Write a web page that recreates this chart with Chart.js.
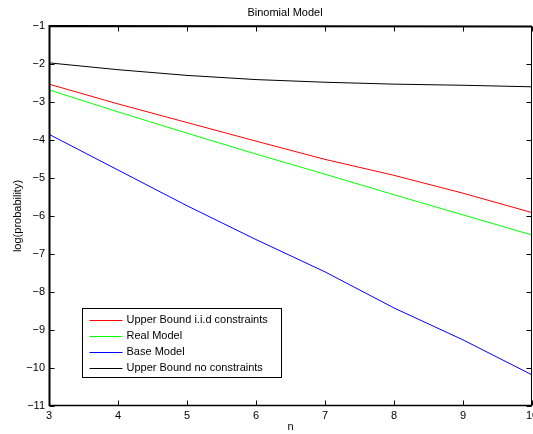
<!DOCTYPE html>
<html><head><meta charset="utf-8">
<script src="https://cdn.jsdelivr.net/npm/chart.js@4.4.0/dist/chart.umd.min.js"></script>
<style>html,body{margin:0;padding:0;overflow:hidden;background:#fff}canvas{display:block}</style>
</head><body>
<canvas id="c" width="533" height="434"></canvas>
<script>
const nValues = [3, 4, 5, 6, 7, 8, 9, 10];
const upperIid = [-2.53, -3.05, -3.54, -4.03, -4.51, -4.93, -5.40, -5.91];
const realModel = [-2.68, -3.26, -3.82, -4.37, -4.90, -5.44, -5.97, -6.50];
const baseModel = [-3.85, -4.79, -5.73, -6.62, -7.47, -8.42, -9.26, -10.18];
const upperNoCon = [-1.97, -2.15, -2.30, -2.41, -2.48, -2.53, -2.56, -2.60];
const seriesLabels = ['Upper Bound i.i.d constraints', 'Real Model', 'Base Model', 'Upper Bound no constraints'];
const seriesColors = ['#ff0000', '#00ff00', '#0000ff', '#000000'];
const xTicks = [3, 4, 5, 6, 7, 8, 9, 10];
const yTicks = [-1, -2, -3, -4, -5, -6, -7, -8, -9, -10, -11];

const FONT = '"Liberation Sans", Arial, Helvetica, sans-serif';
const seriesValues = [upperIid, realModel, baseModel, upperNoCon];

const datasets = seriesValues.map((vals, i) => ({
  label: seriesLabels[i],
  data: nValues.map((n, j) => ({x: n, y: vals[j]})),
  borderColor: seriesColors[i],
  backgroundColor: seriesColors[i],
  borderWidth: 1,
  pointRadius: 0,
  tension: 0,
  fill: false
}));

const boxPlugin = {
  id: 'matlabBox',
  afterLayout(chart) {
    if (chart.titleBlock) { chart.titleBlock.left = 38; chart.titleBlock.right = 532; }
  },
  afterDatasetsDraw(chart) {
    const {ctx, chartArea: a, scales: {x, y}} = chart;
    ctx.save();
    ctx.strokeStyle = '#000';
    const L = Math.round(a.left) + 0.5, R = Math.round(a.right) - 0.5;
    const T = Math.round(a.top) + 0.5, B = Math.round(a.bottom) - 0.5;
    ctx.lineWidth = 1;
    ctx.beginPath();
    ctx.rect(L, T, R - L, B - T);
    const tl = 5;
    xTicks.forEach(v => {
      const px = Math.round(x.getPixelForValue(v)) + 0.5;
      ctx.moveTo(px, B); ctx.lineTo(px, B - tl);
      ctx.moveTo(px, T); ctx.lineTo(px, T + tl);
    });
    yTicks.forEach(v => {
      const py = Math.round(y.getPixelForValue(v)) + 0.5;
      ctx.moveTo(L, py); ctx.lineTo(L + tl, py);
      ctx.moveTo(R, py); ctx.lineTo(R - tl, py);
    });
    ctx.stroke();
    // slightly heavier left and top edges, as in the reference
    ctx.lineWidth = 2;
    ctx.beginPath();
    ctx.moveTo(L, B + 0.5); ctx.lineTo(L, T - 0.5); ctx.lineTo(R + 0.5, T);
    ctx.stroke();
    ctx.lineWidth = 1.3;
    ctx.beginPath();
    ctx.moveTo(L, B); ctx.lineTo(R + 0.5, B);
    ctx.stroke();

    // legend box inside axes (bottom-left)
    ctx.lineWidth = 1;
    ctx.font = '11px ' + FONT;
    const tw = Math.max(...chart.data.datasets.map(d => ctx.measureText(d.label).width));
    const bx = Math.round(a.left + 33) + 0.5, by = Math.round(a.top + 282) + 0.5;
    const bw = Math.round(44 + tw + 14), bh = 69;
    ctx.fillStyle = '#fff';
    ctx.fillRect(bx, by, bw, bh);
    ctx.strokeStyle = '#000';
    ctx.strokeRect(bx, by, bw, bh);
    ctx.textBaseline = 'middle';
    ctx.textAlign = 'left';
    chart.data.datasets.forEach((d, i) => {
      const ry = by + 11 + i * 16.1;
      ctx.beginPath();
      ctx.strokeStyle = d.borderColor;
      ctx.lineWidth = 1;
      ctx.moveTo(bx + 7, Math.round(ry) + 0.5);
      ctx.lineTo(bx + 40, Math.round(ry) + 0.5);
      ctx.stroke();
      ctx.fillStyle = '#000';
      ctx.fillText(d.label, bx + 44, ry + 0.5);
    });
    ctx.restore();
  }
};

new Chart(document.getElementById('c'), {
  type: 'line',
  data: {datasets},
  options: {
    responsive: false,
    animation: false,
    devicePixelRatio: 1,
    layout: {padding: {left: 0, right: 1, top: 0, bottom: 0}},
    plugins: {
      legend: {display: false},
      tooltip: {enabled: false},
      title: {
        display: true, text: 'Binomial Model', color: '#000',
        font: {family: FONT, size: 11, weight: 'normal'},
        padding: {top: 6, bottom: 6.8}
      }
    },
    scales: {
      x: {
        type: 'linear', min: 3, max: 10,
        afterBuildTicks: s => { s.ticks = xTicks.map(v => ({value: v})); },
        afterFit: s => { s.height = 28; s.paddingRight = 0; s.paddingLeft = 0; },
        ticks: {color: '#000', font: {family: FONT, size: 11}, padding: 3, maxRotation: 0, autoSkip: false,
                callback: v => String(v)},
        grid: {display: false, drawTicks: false},
        border: {display: false},
        title: {display: true, text: 'n', color: '#000', font: {family: FONT, size: 11}, padding: {top: 0, bottom: 0}}
      },
      y: {
        type: 'linear', min: -11, max: -1,
        afterBuildTicks: s => { s.ticks = yTicks.map(v => ({value: v})); },
        afterFit: s => { s.width = 49; },
        ticks: {color: '#000', font: {family: FONT, size: 11}, padding: 4,
                callback: v => (v < 0 ? '\u2212' + Math.abs(v) : String(v))},
        grid: {display: false, drawTicks: false},
        border: {display: false},
        title: {display: true, text: 'log(probability)', color: '#000', font: {family: FONT, size: 11}, padding: {top: 11, bottom: 0}}
      }
    }
  },
  plugins: [boxPlugin]
});
</script>
</body></html>
